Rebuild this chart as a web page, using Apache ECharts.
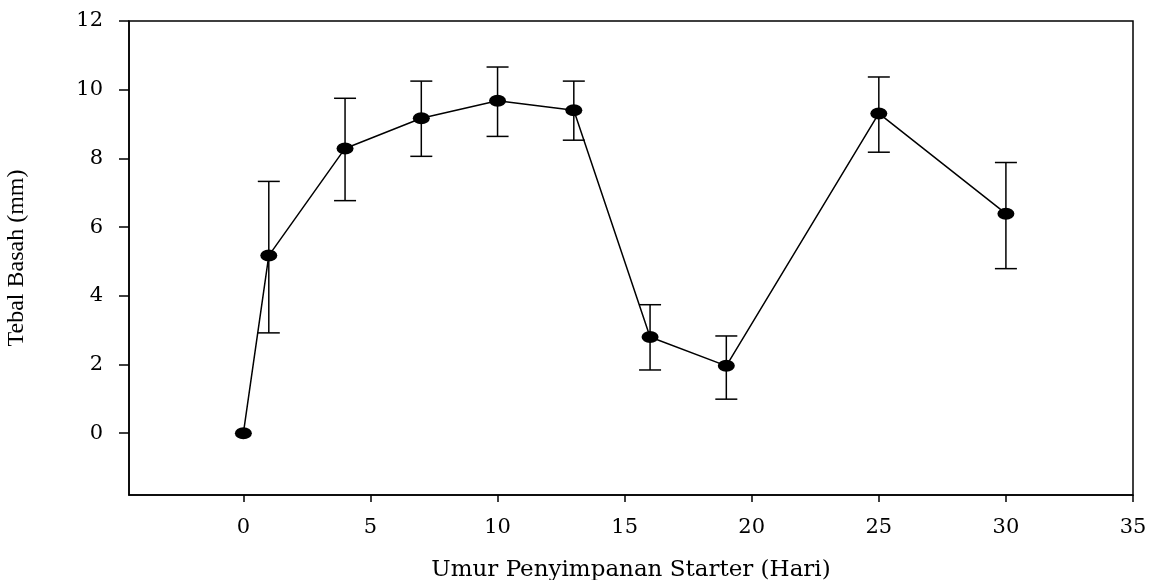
<!DOCTYPE html>
<html>
<head>
<meta charset="utf-8">
<script src="https://cdn.jsdelivr.net/npm/echarts@6/dist/echarts.min.js"></script>
<style>
  html, body { margin: 0; padding: 0; background: #fff; }
  #chart { width: 1151px; height: 580px; }
</style>
</head>
<body>
<div id="chart"></div>
<script>
// storage age (days) vs wet thickness (mm), with error bar ends
const days = [0, 1, 4, 7, 10, 13, 16, 19, 25, 30];
const thickness = [0, 5.17, 8.29, 9.17, 9.68, 9.40, 2.80, 1.96, 9.31, 6.39];
const errLow = [null, 2.92, 6.77, 8.06, 8.64, 8.53, 1.84, 0.99, 8.18, 4.79];
const errHigh = [null, 7.33, 9.75, 10.25, 10.66, 10.25, 3.74, 2.83, 10.37, 7.88];
const xTicks = [0, 5, 10, 15, 20, 25, 30, 35];
const yTicks = [0, 2, 4, 6, 8, 10, 12];

const wideFont = '"DejaVu Serif", "Liberation Serif", serif';
const narrowFont = '"Liberation Serif", "DejaVu Serif", serif';

const lineData = days.map((d, i) => [d, thickness[i]]);
const errData = [];
days.forEach((d, i) => {
  if (errLow[i] != null) errData.push([d, errLow[i], errHigh[i]]);
});

const chart = echarts.init(document.getElementById('chart'));
chart.setOption({
  animation: false,
  backgroundColor: '#fff',
  grid: {
    left: 129, right: 18, top: 21, bottom: 85,
    outerBoundsMode: 'none',
    containLabel: false,
    show: true, borderColor: '#000', borderWidth: 1.5, backgroundColor: 'transparent'
  },
  xAxis: {
    type: 'value',
    min: -4.5,
    max: 35,
    name: 'Umur Penyimpanan Starter (Hari)',
    nameLocation: 'middle',
    nameGap: 64,
    nameTextStyle: { fontFamily: wideFont, fontSize: 23, color: '#000' },
    axisLine: { show: true, onZero: false, lineStyle: { color: '#000', width: 1.5 } },
    axisTick: { show: true, length: 7, customValues: xTicks, lineStyle: { color: '#000', width: 1.5 } },
    axisLabel: { customValues: xTicks, margin: 22, fontFamily: wideFont, fontSize: 21, color: '#000' },
    splitLine: { show: false }
  },
  yAxis: {
    type: 'value',
    min: -1.8,
    max: 12,
    name: 'Tebal Basah (mm)',
    nameLocation: 'middle',
    nameGap: 100,
    nameTextStyle: { fontFamily: narrowFont, fontSize: 24, color: '#000' },
    axisLine: { show: true, onZero: false, lineStyle: { color: '#000', width: 1.5 } },
    axisTick: { show: true, length: 10, customValues: yTicks, lineStyle: { color: '#000', width: 1.5 } },
    axisLabel: { customValues: yTicks, margin: 26, fontFamily: wideFont, fontSize: 21, color: '#000' },
    splitLine: { show: false }
  },
  series: [
    {
      type: 'custom',
      data: errData,
      z: 2,
      renderItem: function (params, api) {
        const x = api.value(0);
        const lo = api.coord([x, api.value(1)]);
        const hi = api.coord([x, api.value(2)]);
        const hw = 11;
        const style = { stroke: '#000', lineWidth: 1.5 };
        return {
          type: 'group',
          children: [
            { type: 'line', shape: { x1: lo[0], y1: lo[1], x2: hi[0], y2: hi[1] }, style: style },
            { type: 'line', shape: { x1: hi[0] - hw, y1: hi[1], x2: hi[0] + hw, y2: hi[1] }, style: style },
            { type: 'line', shape: { x1: lo[0] - hw, y1: lo[1], x2: lo[0] + hw, y2: lo[1] }, style: style }
          ]
        };
      }
    },
    {
      type: 'line',
      data: lineData,
      z: 3,
      symbol: 'circle',
      symbolSize: [17, 12],
      itemStyle: { color: '#000' },
      lineStyle: { color: '#000', width: 1.5 }
    }
  ]
});
</script>
</body>
</html>
